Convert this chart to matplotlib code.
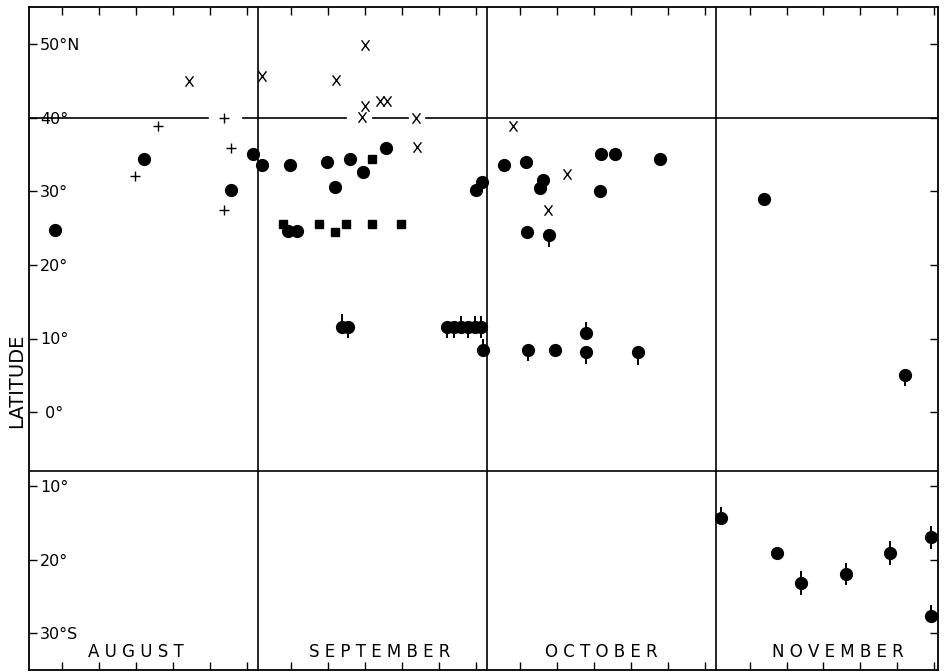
import numpy as np
import matplotlib.pyplot as plt
from matplotlib.path import Path

plt.rcParams['font.family'] = ['DejaVu Sans']

# months shown on the chart, each one gets 31 day slots
months = ['AUGUST', 'SEPTEMBER', 'OCTOBER', 'NOVEMBER']
label_day = [15, 17, 16, 17]
lat_ticks = [-30, -20, -10, 0, 10, 20, 30, 40, 50]
lat_labels = ['30°S', '20°', '10°', ' 0°', '10°', '20°', '30°', '40°', '50°N']

# filled circles (month index, day of month, latitude)
dot_month = [0, 0, 0, 0, 1, 1, 1, 1, 1, 1, 1, 1, 1, 1, 1,
             2, 2, 2, 2, 2, 2, 2, 2, 2, 2, 3, 3]
dot_day = [4.0, 16.0, 27.9, 30.85, 1.0, 4.75, 4.6, 5.8, 9.8, 10.9, 13.0, 14.7, 17.8, 29.95, 30.8,
           2.8, 5.75, 5.85, 7.65, 8.1, 15.9, 17.8, 15.7, 23.9, 9.7, 6.9, 8.7]
dot_lat = [24.7, 34.3, 30.1, 35.0, 33.5, 33.5, 24.6, 24.6, 34.0, 30.5, 34.4, 32.6, 35.9, 30.2, 31.2,
           33.6, 33.9, 24.5, 30.4, 31.5, 35.0, 35.0, 30.0, 34.4, 8.5, 28.9, -19.1]

# filled circles with error ticks
eb_month = [1, 1, 1, 1, 1, 1, 1, 1, 1, 2, 2, 2, 2, 2, 3, 3, 3, 3, 3, 3, 3]
eb_day = [11.8, 12.7, 26.1, 27.0, 28.0, 28.9, 29.8, 30.7, 30.9,
          6.0, 13.9, 13.9, 20.9, 8.9,
          26.0, 1.2, 12.0, 18.05, 24.0, 29.5, 29.5]
eb_lat = [11.6, 11.6, 11.6, 11.6, 11.6, 11.6, 11.6, 11.6, 8.5,
          8.5, 10.7, 8.1, 8.1, 24.0,
          5.0, -14.3, -23.2, -22.0, -19.1, -17.0, -27.7]
eb_up = [1.7, 0, 0, 0, 1.5, 0, 1.5, 1.5, 1.5,
         0, 1.5, 0, 0, 0,
         0, 1.4, 1.6, 1.5, 1.6, 1.6, 1.5]
eb_down = [0, 1.5, 1.5, 1.5, 0, 1.5, 0, 1.5, 0,
           1.6, 0, 1.5, 1.7, 1.6,
           1.5, 0, 1.6, 1.5, 1.6, 1.6, 0]

# squares
sq_month = [1, 1, 1, 1, 1, 1, 1]
sq_day = [3.9, 8.8, 10.95, 12.4, 15.85, 15.9, 19.9]
sq_lat = [25.6, 25.5, 24.5, 25.5, 34.4, 25.5, 25.5]

# plus signs
plus_month = [0, 0, 0, 0, 0]
plus_day = [14.8, 17.9, 26.9, 27.9, 26.9]
plus_lat = [32.0, 38.9, 40.0, 35.9, 27.5]

# crosses
x_month = [0, 1, 1, 1, 1, 1, 1, 1, 1, 1, 2, 2, 2]
x_day = [22.1, 1.0, 11.0, 14.9, 14.9, 14.5, 17.0, 17.9, 21.8, 22.0, 4.0, 11.3, 8.7]
x_lat = [45.0, 45.7, 45.1, 49.9, 41.5, 40.1, 42.2, 42.2, 40.0, 36.0, 38.9, 32.3, 27.5]

# breaks in the 40 degree line, (month, day) pairs
gaps_40 = [((0, 24.7), (0, 29.5)), ((1, 12.4), (1, 16.1)), ((1, 20.8), (1, 23.2))]


def chart_x(m, d):
    return 31 * np.asarray(m) + np.asarray(d) - 0.5


fig = plt.figure(figsize=(9.46, 6.72), dpi=100)
ax = fig.add_axes([29 / 946, 2 / 672, 909 / 946, 663 / 672])
ax.set_xlim(0, 123)
ax.set_ylim(-35, 55)

# month dividers and latitude lines
for m in range(1, 4):
    ax.axvline(31 * m, color='black', lw=1.2)
ax.axhline(-8, color='black', lw=1.2)
edges = [0]
for a, b in gaps_40:
    edges += [chart_x(*a), chart_x(*b)]
edges.append(123)
for i in range(0, len(edges), 2):
    ax.plot([edges[i], edges[i + 1]], [40, 40], color='black', lw=1.2)

ax.plot(chart_x(dot_month, dot_day), dot_lat, 'o', ms=8.5, color='black', ls='none')
ax.errorbar(chart_x(eb_month, eb_day), eb_lat, yerr=[eb_down, eb_up], fmt='o', ms=8.5,
            color='black', ecolor='black', elinewidth=1.4, capsize=0)
ax.plot(chart_x(sq_month, sq_day), sq_lat, 's', ms=6, color='black', ls='none')
ax.plot(chart_x(plus_month, plus_day), plus_lat, '+', ms=6.5, mew=1.0, color='black', ls='none')

cross = Path([(-0.38, -0.5), (0.38, 0.5), (-0.38, 0.5), (0.38, -0.5)],
             [Path.MOVETO, Path.LINETO, Path.MOVETO, Path.LINETO])
ax.plot(chart_x(x_month, x_day), x_lat, marker=cross, ms=7.5, mew=1.0, color='black',
        mfc='none', ls='none')

# ticks
xt = [chart_x(m, d) for m in range(4) for d in range(5, 31, 5)]
ax.set_xticks(xt)
ax.set_yticks(lat_ticks)
ax.set_yticklabels(lat_labels, fontsize=11.5)
for lab in ax.get_yticklabels():
    lab.set_ha('left')
ax.tick_params(axis='both', direction='in', length=6, width=1.0,
               top=True, right=True, labelbottom=False)
ax.tick_params(axis='y', pad=-8)
for s in ax.spines.values():
    s.set_linewidth(1.3)

for m, name in enumerate(months):
    ax.text(chart_x(m, label_day[m]), -32.5, ' '.join(name), fontsize=12,
            ha='center', va='center')

ax.text(-0.0138, 0.436, 'LATITUDE', transform=ax.transAxes, rotation=90,
        fontsize=14, ha='center', va='center')

fig.savefig('out.png', dpi=100)
